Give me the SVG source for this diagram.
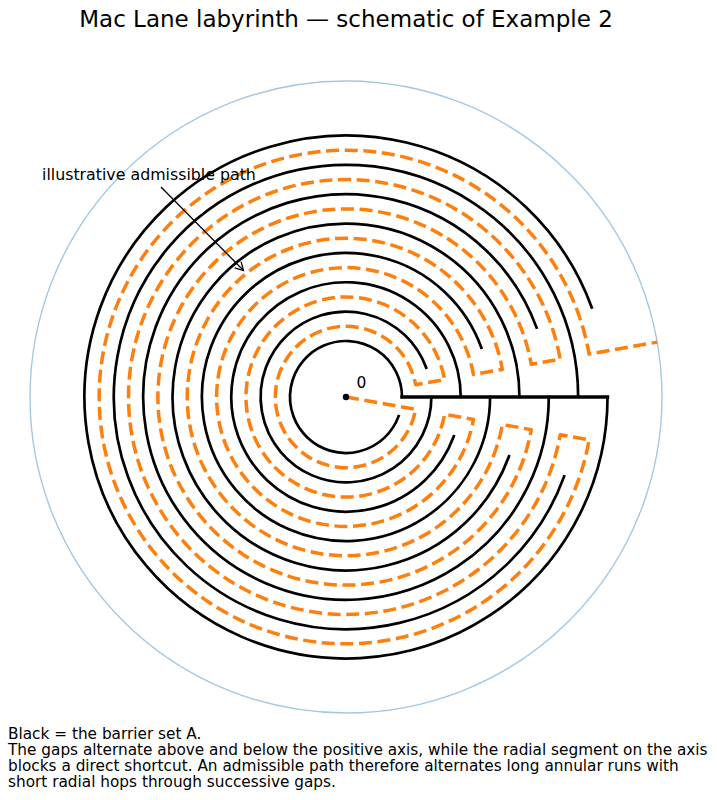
<svg xmlns="http://www.w3.org/2000/svg" width="717" height="800" viewBox="0 0 717 800">
<style>
  text { font-family: "DejaVu Sans", "Liberation Sans", sans-serif; fill: #000; }
  .title { font-size: 23px; }
  .note { font-size: 15.3px; }
  .ann { font-size: 15.8px; }
  .barrier { fill: none; stroke: #000; stroke-width: 2.7; stroke-linecap: square; }
  .radial { fill: none; stroke: #000; stroke-width: 3.4; stroke-linecap: square; }
  .route { fill: none; stroke: #ff7f0e; stroke-width: 3.5; stroke-dasharray: 13 5.6; stroke-linejoin: round; }
  .arrow { fill: none; stroke: #000; stroke-width: 1.3; }
</style>
<rect width="717" height="800" fill="#fff"/>
<text class="title" x="346" y="27" text-anchor="middle">Mac Lane labyrinth — schematic of Example 2</text>

<g id="boundary">
  <circle cx="346" cy="397" r="316" fill="none" stroke="#a5c8e1" stroke-width="1.4"/>
</g>

<g id="barriers">
  <path id="ring0" class="barrier" d="M402,397 A56,56 0 1 0 398.623,416.153"/>
  <path id="ring1" class="barrier" d="M426.212,367.805 A85.36,85.36 0 1 0 431.36,397"/>
  <path id="ring2" class="barrier" d="M460.72,397 A114.72,114.72 0 1 0 453.801,436.237"/>
  <path id="ring3" class="barrier" d="M481.391,347.722 A144.08,144.08 0 1 0 490.08,397"/>
  <path id="ring4" class="barrier" d="M519.44,397 A173.44,173.44 0 1 0 508.981,456.320"/>
  <path id="ring5" class="barrier" d="M536.569,327.638 A202.8,202.8 0 1 0 548.8,397"/>
  <path id="ring6" class="barrier" d="M578.16,397 A232.16,232.16 0 1 0 564.158,476.404"/>
  <path id="ring7" class="barrier" d="M591.748,307.554 A261.52,261.52 0 1 0 607.52,397"/>
  <path id="axis-segment" class="radial" d="M402,397 L607.52,397"/>
</g>

<g id="connectors">
  <path id="admissible-path" class="route" d="M346,397 L415.606,409.273 A70.68,70.68 0 1 1 415.606,384.727 L444.520,379.628 A100.04,100.04 0 1 0 444.520,414.372 L473.434,419.470 A129.4,129.4 0 1 1 473.434,374.530 L502.349,369.432 A158.76,158.76 0 1 0 502.349,424.568 L531.263,429.667 A188.12,188.12 0 1 1 531.263,364.333 L560.177,359.235 A217.48,217.48 0 1 0 560.177,434.765 L589.091,439.863 A246.84,246.84 0 1 1 589.091,354.137 L657.203,342.127"/>
  <g id="annotation-arrow">
    <path class="arrow" d="M161,187 L243.5,270.5"/>
    <polyline class="arrow" points="234.68,267.97 243.5,270.5 241.08,261.65"/>
  </g>
</g>

<g id="origin">
  <circle cx="346" cy="397" r="3.2" fill="#000"/>
  <text x="356.5" y="388" style="font-size:15.5px">0</text>
</g>

<g id="labels">
  <text class="ann" x="42" y="179.5">illustrative admissible path</text>
  <text class="note" x="8" y="738.5">Black = the barrier set A.</text>
  <text class="note" x="8" y="754.8">The gaps alternate above and below the positive axis, while the radial segment on the axis</text>
  <text class="note" x="8" y="771.1">blocks a direct shortcut. An admissible path therefore alternates long annular runs with</text>
  <text class="note" x="8" y="787.4">short radial hops through successive gaps.</text>
</g>
</svg>
